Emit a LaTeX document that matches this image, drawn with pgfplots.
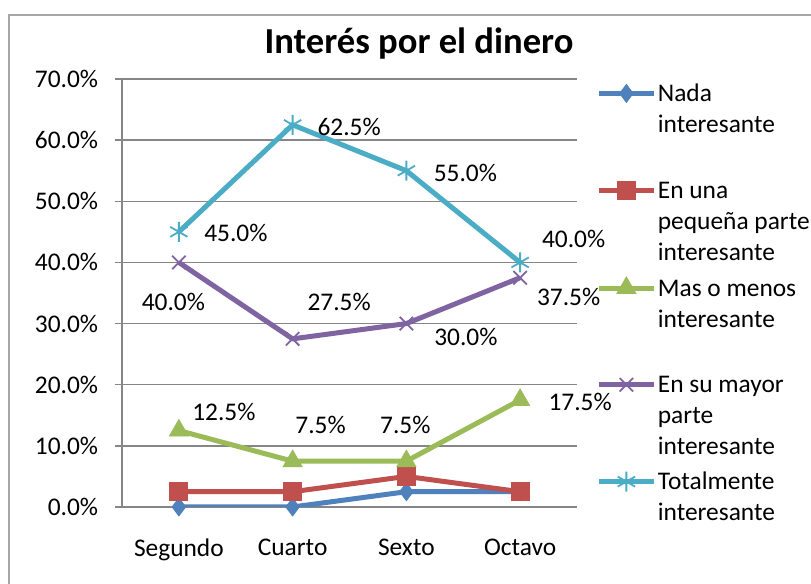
\documentclass[border=0pt]{standalone}
\usepackage{pgfplots}
\pgfplotsset{compat=1.18}
\usepackage{pgfplotstable}
\usepackage{fontspec}
\setmainfont{Carlito}
\definecolor{sBlue}{HTML}{4F81BD}
\definecolor{sRed}{HTML}{C0504D}
\definecolor{sGreen}{HTML}{9BBB59}
\definecolor{sPurple}{HTML}{8064A2}
\definecolor{sCyan}{HTML}{4BACC6}
\definecolor{gridgray}{HTML}{868686}
\definecolor{bordergray}{HTML}{A6A6A6}

\pgfplotstableread{
x y dx dy
0 0 0 0
1 0 0 0
2 2.5 0 0
3 2.5 0 0
}\tNada
\pgfplotstableread{
x y dx dy
0 2.5 0 0
1 2.5 0 0
2 5.0 0 0
3 2.5 0 0
}\tPeq
\pgfplotstableread{
x y dx dy
0 12.5 22.5 9.5
1 7.5 14 18
2 7.5 -0.5 18
3 17.5 30 -1
}\tMas
\pgfplotstableread{
x y dx dy
0 40.0 -2.75 -20
1 27.5 23.25 18.5
2 30.0 29.75 -6.5
3 37.5 24.25 -9.5
}\tMayor
\pgfplotstableread{
x y dx dy
0 45.0 28.5 -0.5
1 62.5 28.25 -1
2 55.0 29.5 -1
3 40.0 26.75 11.5
}\tTotal

\newcommand{\lbl}{\fontsize{12.7}{15.3}\selectfont}
\newcommand{\entry}[1]{\vtop to 48.4pt{\baselineskip=15.5pt #1\vss}}
\begin{document}
\lbl
\begin{tikzpicture}[x=0.5pt,y=0.5pt]
\fill[white] (0,0) rectangle (811,584);
\draw[bordergray, line width=1pt] (9,0) -- (9,569) -- (811,569);
\begin{axis}[
  at={(61pt,38.5pt)}, anchor=south west,
  scale only axis, width=227.5pt, height=214pt,
  xmin=-0.5, xmax=3.5, ymin=0, ymax=70,
  xtick={0,1,2,3}, xticklabels={Segundo,Cuarto,Sexto,Octavo},
  ytick={0,10,...,70},
  yticklabel={\pgfmathprintnumber[fixed,fixed zerofill,precision=1]{\tick}\%},
  /pgf/number format/assume math mode=true,
  axis x line*=bottom, axis y line*=left,
  axis line style={gridgray, line width=0.75pt, -},
  ymajorgrids, grid style={gridgray, line width=0.75pt},
  tick align=outside, major tick length=3.5pt,
  xtick style={draw=none}, ytick style={gridgray, line width=0.75pt},
  tick label style={font=\lbl, text=black},
  yticklabel style={xshift=-4pt},
  xticklabel style={yshift=-8pt},
  legend style={at={(1,1)}, anchor=north west, xshift=9.5pt, yshift=-2pt,
    draw=none, fill=none, inner sep=0pt, font=\lbl,
    cells={anchor=base west},
    nodes={inner xsep=0.75pt, inner ysep=0pt, text height=9pt, text depth=39.4pt},
    /tikz/every even column/.append style={column sep=0pt}},
  legend image code/.code={\pgfsetbaseline{0pt}\draw[mark repeat=2,mark phase=2,#1] plot coordinates {(0pt,4pt) (13.75pt,4pt) (27.5pt,4pt)};},
  lblstyle/.style={point meta=y,
    nodes near coords={\pgfmathprintnumber[fixed,fixed zerofill,precision=1]{\pgfplotspointmeta}\%},
    visualization depends on={\thisrow{dx} \as \dx},
    visualization depends on={\thisrow{dy} \as \dy},
    nodes near coords style={anchor=center, xshift=\dx pt, yshift=\dy pt, text=black, font=\lbl}},
  bluest/.style={sBlue, line width=2.5pt, mark=diamond*, mark size=4.5pt, mark options={line width=0.4pt}},
  redst/.style={sRed, line width=2.5pt, mark=square*, mark size=4.5pt, mark options={line width=0.4pt}},
  greenst/.style={sGreen, line width=2.5pt, mark=triangle*, mark size=5.5pt, mark options={line width=0.4pt}},
  purplest/.style={sPurple, line width=2.5pt, mark=x, mark size=4.75pt, mark options={line width=0.9pt}},
  cyanst/.style={sCyan, line width=2.5pt, mark=asterisk, mark size=5pt, mark options={line width=0.9pt}},
]
\addplot[bluest, forget plot] table[x=x,y=y] {\tNada};
\addplot[redst, forget plot] table[x=x,y=y] {\tPeq};
\addplot[greenst, lblstyle, forget plot] table[x=x,y=y] {\tMas};
\addplot[purplest, lblstyle, forget plot] table[x=x,y=y] {\tMayor};
\addplot[cyanst, lblstyle, forget plot] table[x=x,y=y] {\tTotal};
\addlegendimage{bluest}
\addlegendentry{\entry{\hbox{Nada}\hbox{interesante}}}
\addlegendimage{redst}
\addlegendentry{\entry{\hbox{En una}\hbox{pequeña parte}\hbox{interesante}}}
\addlegendimage{greenst}
\addlegendentry{\entry{\hbox{Mas o menos}\hbox{interesante}}}
\addlegendimage{purplest}
\addlegendentry{\entry{\hbox{En su mayor}\hbox{parte}\hbox{interesante}}}
\addlegendimage{cyanst}
\addlegendentry{\entry{\hbox{Totalmente}\hbox{interesante}}}
\end{axis}
\node[font=\bfseries\fontsize{18.3}{22}\selectfont] at (419,540) {Interés por el dinero};
\pgfresetboundingbox
\path[use as bounding box] (0,0) rectangle (811,584);
\end{tikzpicture}
\end{document}
